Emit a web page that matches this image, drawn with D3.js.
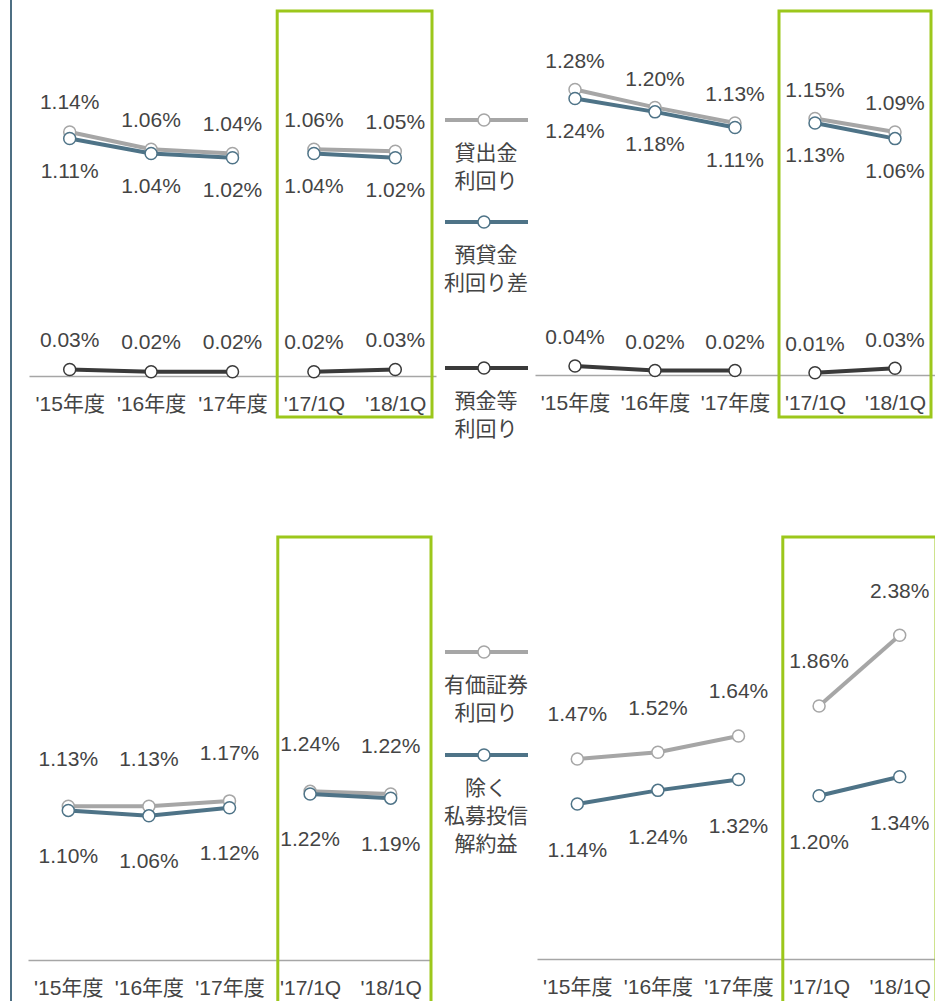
<!DOCTYPE html>
<html>
<head>
<meta charset="utf-8">
<script src="https://cdn.jsdelivr.net/npm/d3@7"></script>
<style>
  body { margin: 0; background: #fff; }
  svg { display: block; }
</style>
</head>
<body>
<script>
"use strict";

const width = 935;
const height = 1001;

// categories shared by all four panels
const categories = ["'15年度", "'16年度", "'17年度", "'17/1Q", "'18/1Q"];

// top left panel
const tlLoanYield = [1.14, 1.06, 1.04, 1.06, 1.05];
const tlSpread = [1.11, 1.04, 1.02, 1.04, 1.02];
const tlDepositYield = [0.03, 0.02, 0.02, 0.02, 0.03];

// top right panel
const trLoanYield = [1.28, 1.20, 1.13, 1.15, 1.09];
const trSpread = [1.24, 1.18, 1.11, 1.13, 1.06];
const trDepositYield = [0.04, 0.02, 0.02, 0.01, 0.03];

// bottom left panel
const blSecurities = [1.13, 1.13, 1.17, 1.24, 1.22];
const blExPrivate = [1.10, 1.06, 1.12, 1.22, 1.19];

// bottom right panel
const brSecurities = [1.47, 1.52, 1.64, 1.86, 2.38];
const brExPrivate = [1.14, 1.24, 1.32, 1.20, 1.34];

const GRAY = "#a6a6a6";
const BLUE = "#4e7387";
const DARK = "#3a3a3a";
const GREEN = "#9cc71b";
const TEXT = "#444";
const FONT = "'Liberation Sans', Arial, 'Noto Sans CJK JP', sans-serif";
const FS = 21;

const fmt = v => d3.format(".2f")(v) + "%";

const svg = d3.select("body").append("svg")
    .attr("width", width)
    .attr("height", height)
    .style("font-family", FONT);

// blue-gray rule on the left edge
svg.append("line")
    .attr("x1", 11).attr("x2", 11)
    .attr("y1", 0).attr("y2", height)
    .attr("stroke", "#4d6f83")
    .attr("stroke-width", 2);

const panels = [
    { xRange: [29, 436], base: 376, k: 214, boxTop: 11, boxBottom: 417, boxShift: 0, above: -30, below: 32,
      series: [ { values: tlLoanYield, color: GRAY, pos: "above" },
                { values: tlSpread, color: BLUE, pos: "below" },
                { values: tlDepositYield, color: DARK, pos: "above" } ] },
    { xRange: [535, 935], base: 375, k: 223, boxTop: 11, boxBottom: 417, boxShift: 0, above: -29, below: 32,
      series: [ { values: trLoanYield, color: GRAY, pos: "above" },
                { values: trSpread, color: BLUE, pos: "below" },
                { values: trDepositYield, color: DARK, pos: "above" } ] },
    { xRange: [28, 431], base: 960, k: 136, boxTop: 537, boxBottom: 1020, boxShift: 4, above: -48, below: 45,
      series: [ { values: blSecurities, color: GRAY, pos: "above" },
                { values: blExPrivate, color: BLUE, pos: "below" } ] },
    { xRange: [537, 940], base: 959, k: 136, boxTop: 537, boxBottom: 1020, boxShift: 0, above: -45, below: 46,
      series: [ { values: brSecurities, color: GRAY, pos: "above" },
                { values: brExPrivate, color: BLUE, pos: "below" } ] }
];

panels.forEach(drawPanel);

function drawPanel(p) {
    const x = d3.scalePoint().domain(categories).range(p.xRange).padding(0.5);
    const y = d3.scaleLinear().domain([0, 1]).range([p.base, p.base - p.k]);
    const step = x.step();

    // axis with category labels
    const g = svg.append("g")
        .attr("transform", `translate(0,${p.base})`)
        .call(d3.axisBottom(x).tickSize(0).tickSizeOuter(0).tickPadding(20));
    g.attr("font-family", FONT).attr("font-size", FS);
    g.select(".domain").attr("stroke", GRAY).attr("stroke-width", 1.5);
    g.selectAll(".tick text").attr("fill", TEXT);

    // green frame round the quarterly points
    const bx0 = x(categories[3]) - step / 2 + 4 + p.boxShift;
    const bx1 = x(categories[4]) + step / 2 - 4 + p.boxShift;
    svg.append("rect")
        .attr("x", bx0).attr("y", p.boxTop)
        .attr("width", bx1 - bx0).attr("height", p.boxBottom - p.boxTop)
        .attr("fill", "none")
        .attr("stroke", GREEN)
        .attr("stroke-width", 3);

    const line = d3.line().x(d => x(d.c)).y(d => y(d.v));

    p.series.forEach(s => {
        const pts = s.values.map((v, i) => ({ c: categories[i], v: v }));
        // yearly and quarterly points are not joined
        [pts.slice(0, 3), pts.slice(3)].forEach(seg => {
            svg.append("path")
                .datum(seg)
                .attr("d", line)
                .attr("fill", "none")
                .attr("stroke", s.color)
                .attr("stroke-width", 4);
        });
        svg.selectAll(null)
            .data(pts)
            .enter()
            .append("circle")
            .attr("cx", d => x(d.c))
            .attr("cy", d => y(d.v))
            .attr("r", 6)
            .attr("fill", "#fff")
            .attr("stroke", s.color)
            .attr("stroke-width", 1.5);
    });

    // value labels
    p.series.forEach(s => {
        const off = s.pos === "above" ? p.above : p.below;
        svg.selectAll(null)
            .data(s.values.map((v, i) => ({ c: categories[i], v: v })))
            .enter()
            .append("text")
            .attr("x", d => x(d.c))
            .attr("y", d => y(d.v) + off)
            .attr("dy", "0.35em")
            .attr("text-anchor", "middle")
            .attr("font-size", FS)
            .attr("fill", TEXT)
            .text(d => fmt(d.v));
    });
}

// legends in the gap between the panels
const legends = [
    { y: 120, color: GRAY, lines: ["貸出金", "利回り"] },
    { y: 222, color: BLUE, lines: ["預貸金", "利回り差"] },
    { y: 368, color: DARK, lines: ["預金等", "利回り"] },
    { y: 652, color: GRAY, lines: ["有価証券", "利回り"] },
    { y: 755, color: BLUE, lines: ["除く", "私募投信", "解約益"] }
];

legends.forEach(l => {
    const g = svg.append("g");
    g.append("line")
        .attr("x1", 445).attr("x2", 528)
        .attr("y1", l.y).attr("y2", l.y)
        .attr("stroke", l.color)
        .attr("stroke-width", 4);
    g.append("circle")
        .attr("cx", 484).attr("cy", l.y)
        .attr("r", 6)
        .attr("fill", "#fff")
        .attr("stroke", l.color)
        .attr("stroke-width", 1.5);
    l.lines.forEach((t, i) => {
        g.append("text")
            .attr("x", 486)
            .attr("y", l.y + 33 + i * 28)
            .attr("dy", "0.35em")
            .attr("text-anchor", "middle")
            .attr("font-size", FS)
            .attr("fill", TEXT)
            .text(t);
    });
});
</script>
</body>
</html>
